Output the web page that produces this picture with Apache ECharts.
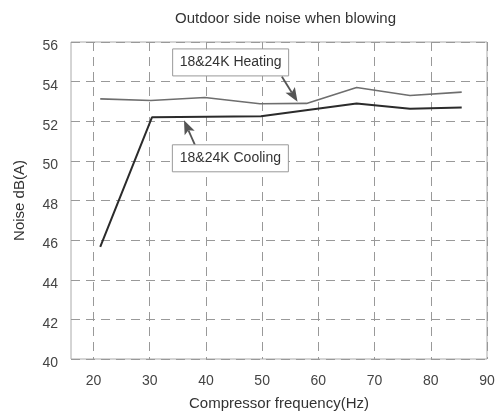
<!DOCTYPE html>
<html><head><meta charset="utf-8">
<script src="https://cdn.jsdelivr.net/npm/echarts@6/dist/echarts.min.js"></script>
<style>html,body{margin:0;padding:0;background:#fff}#c{width:499px;height:416px}</style>
</head><body><div id="c"></div>
<script>
// ---- data ----
const titleText = 'Outdoor side noise when blowing';
const xName = 'Compressor frequency(Hz)';
const yName = 'Noise dB(A)';
const xTicks = [20, 30, 40, 50, 60, 70, 80, 90];
const yTicks = [40, 42, 44, 46, 48, 50, 52, 54, 56];
const heatingFreq = [21.2, 30.2, 39.8, 49.6, 57.9, 66.8, 76.3, 85.5];
const heatingNoise = [53.13, 53.05, 53.2, 52.88, 52.9, 53.7, 53.3, 53.47];
const coolingFreq = [21.2, 30.4, 49.8, 66.8, 76.3, 85.5];
const coolingNoise = [45.66, 52.2, 52.25, 52.9, 52.63, 52.7];
const heatingLabel = '18&24K Heating';
const coolingLabel = '18&24K Cooling';
// annotation anchors in data space: box centre, arrow start, arrow tip
const heatingNote = { box: [44.4, 54.97], from: [53.5, 54.26], to: [56.3, 52.98] };
const coolingNote = { box: [44.35, 50.13], from: [38.06, 50.8], to: [36.1, 52.05] };

const FONT = 'Liberation Sans, Arial, sans-serif';
const chart = echarts.init(document.getElementById('c'), null, { renderer: 'canvas' });
const pairs = (xs, ys) => xs.map((x, i) => [x, ys[i]]);

chart.setOption({
  backgroundColor: '#fff',
  animation: false,
  title: {
    text: titleText, left: 170, top: 6,
    textStyle: { fontFamily: FONT, fontSize: 15, fontWeight: 'normal', color: '#333' }
  },
  grid: { left: 71, right: 12, top: 42, bottom: 57, show: true, borderColor: '#aaa', borderWidth: 1, backgroundColor: 'transparent' },
  xAxis: {
    type: 'value', min: 16, max: 90,
    name: xName, nameLocation: 'middle', nameGap: 37,
    nameTextStyle: { fontFamily: FONT, fontSize: 15, color: '#333' },
    axisLine: { show: false },
    axisTick: { show: false, customValues: xTicks },
    axisLabel: { customValues: xTicks, margin: 15, fontFamily: FONT, fontSize: 14, color: '#444', showMinLabel: true, showMaxLabel: true },
    splitLine: { show: true, lineStyle: { type: [9, 6], color: '#999', width: 1 } }
  },
  yAxis: {
    type: 'value', min: yTicks[0], max: yTicks[yTicks.length - 1], interval: 2,
    name: yName, nameLocation: 'middle', nameGap: 44, nameRotate: 90,
    nameTextStyle: { fontFamily: FONT, fontSize: 15, color: '#333' },
    axisLine: { show: false },
    axisTick: { show: false },
    axisLabel: { margin: 13, verticalAlign: 'top', lineHeight: 9, fontFamily: FONT, fontSize: 14, color: '#444' },
    splitLine: { show: true, lineStyle: { type: [9, 6], color: '#999', width: 1 } }
  },
  series: [
    { name: heatingLabel, type: 'line', data: pairs(heatingFreq, heatingNoise), symbol: 'none',
      lineStyle: { color: '#6e6e6e', width: 1.6 }, z: 3 },
    { name: coolingLabel, type: 'line', data: pairs(coolingFreq, coolingNoise), symbol: 'none',
      lineStyle: { color: '#2b2b2b', width: 2 }, z: 4 }
  ]
});

function noteGraphics(note, text) {
  const c = chart.convertToPixel({ gridIndex: 0 }, note.box);
  const a = chart.convertToPixel({ gridIndex: 0 }, note.from);
  const b = chart.convertToPixel({ gridIndex: 0 }, note.to);
  const w = 116, h = 27;
  const dx = b[0] - a[0], dy = b[1] - a[1];
  const len = Math.hypot(dx, dy), ux = dx / len, uy = dy / len;
  const headL = 14, headW = 5.5;
  const base = [b[0] - ux * headL, b[1] - uy * headL];
  const px = -uy, py = ux;
  return [
    { type: 'line', shape: { x1: a[0], y1: a[1], x2: base[0] + ux * 3, y2: base[1] + uy * 3 }, style: { stroke: '#555', lineWidth: 1.8 }, z: 10 },
    { type: 'polygon', shape: { points: [b, [base[0] + px * headW, base[1] + py * headW], [base[0] + ux * 3, base[1] + uy * 3], [base[0] - px * headW, base[1] - py * headW]] }, style: { fill: '#555' }, z: 10 },
    { type: 'rect', shape: { x: c[0] - w / 2, y: c[1] - h / 2, width: w, height: h }, style: { fill: '#fff', stroke: '#999', lineWidth: 1 }, z: 11 },
    { type: 'text', x: c[0], y: c[1], style: { text: text, align: 'center', verticalAlign: 'middle', font: '14px ' + FONT, fill: '#333' }, z: 12 }
  ];
}
chart.setOption({ graphic: [].concat(noteGraphics(heatingNote, heatingLabel), noteGraphics(coolingNote, coolingLabel)) });
</script>
</body></html>
